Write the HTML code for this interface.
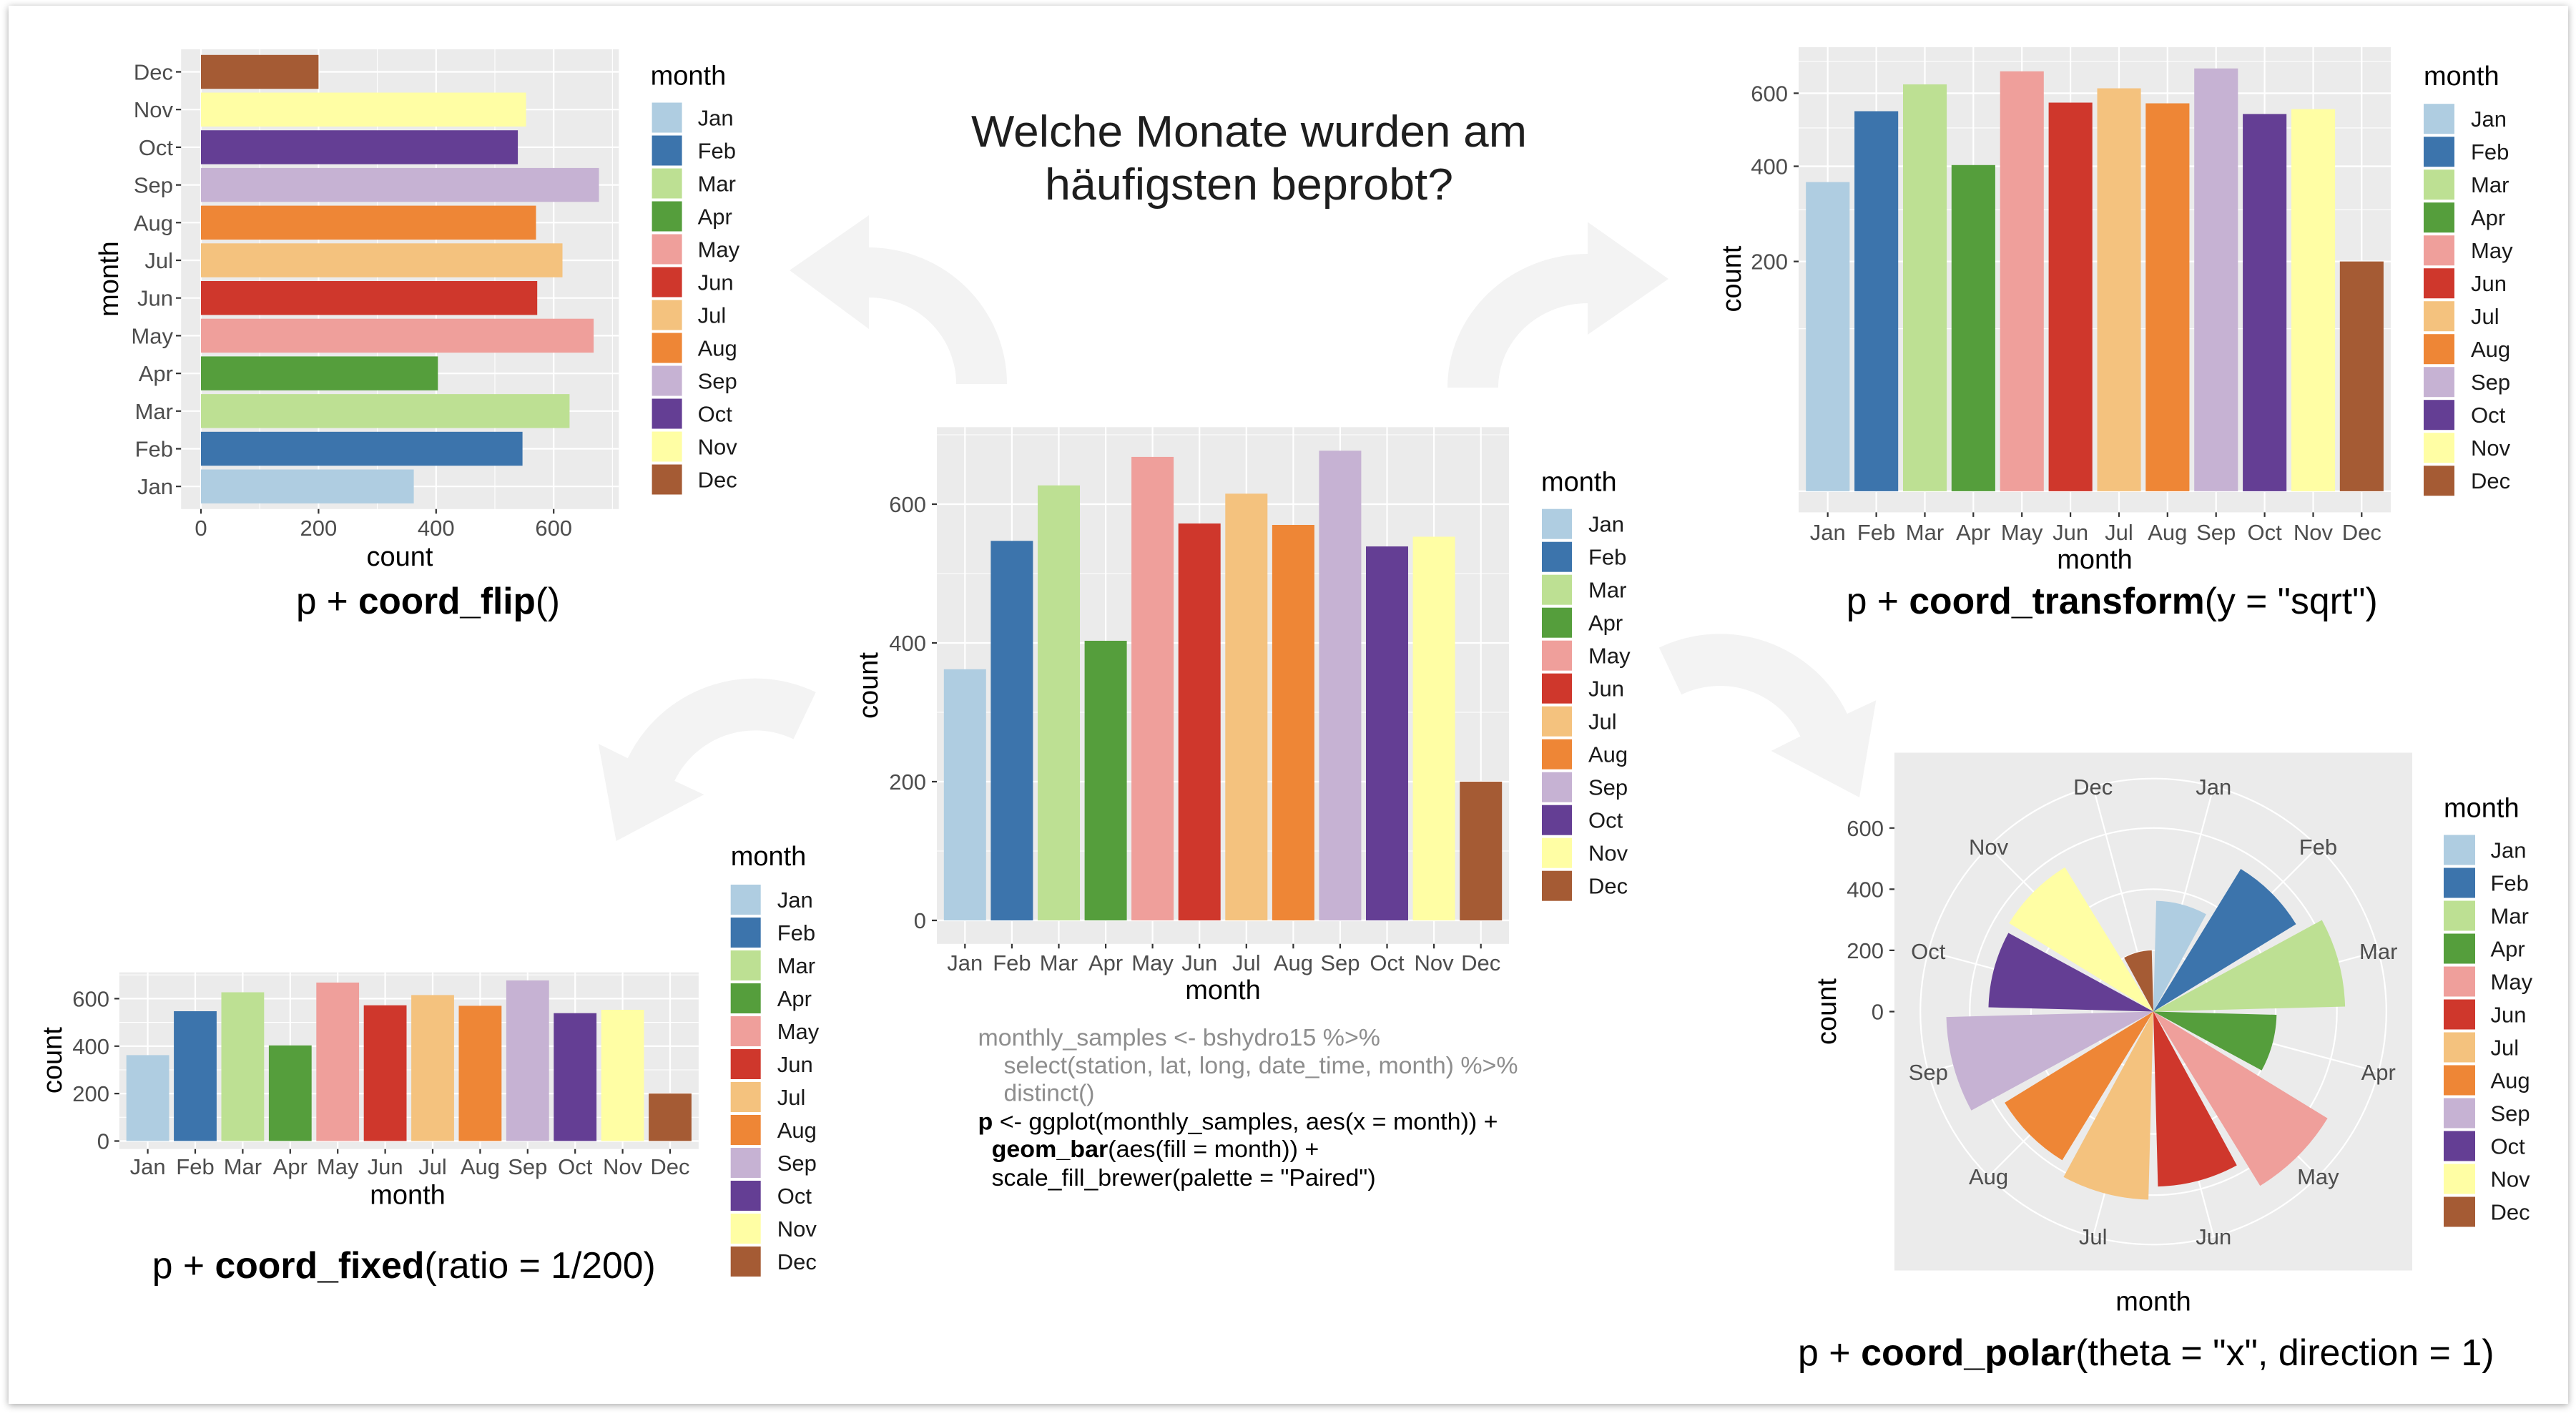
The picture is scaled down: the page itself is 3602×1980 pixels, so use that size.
<!DOCTYPE html>
<html>
<head>
<meta charset="utf-8">
<style>
html,body{margin:0;padding:0;background:#fff;width:3602px;height:1980px;overflow:hidden;}
svg{display:block;}
text{font-family:"Liberation Sans",Arial,Helvetica,sans-serif;}
.tk{font-size:31px;fill:#4d4d4d;}
.tkr{font-size:31px;fill:#4d4d4d;text-anchor:end;}
.tkm{font-size:31px;fill:#4d4d4d;text-anchor:middle;}
.at{font-size:38px;fill:#000;}
.atm{font-size:38px;fill:#000;text-anchor:middle;}
.lg{font-size:31px;fill:#1a1a1a;}
.cap{font-size:52px;fill:#000;}
.code{font-size:33px;}
.gmaj{stroke:#fff;stroke-width:2.2;fill:none;}
.gmin{stroke:#fff;stroke-width:1.1;fill:none;}
.tick{stroke:#333;stroke-width:2.2;fill:none;}
.pb{fill:#ebebeb;}
.c1{fill:#afcde1}.c2{fill:#3c74ac}.c3{fill:#bde093}.c4{fill:#559e3c}
.c5{fill:#ef9f9b}.c6{fill:#cf372c}.c7{fill:#f4c27e}.c8{fill:#ee8636}
.c9{fill:#c6b2d3}.c10{fill:#643e94}.c11{fill:#fffea4}.c12{fill:#a55b34}
.arr{fill:#f3f3f3;}
</style>
</head>
<body>
<svg width="3602" height="1980" viewBox="0 0 3602 1980" xmlns="http://www.w3.org/2000/svg">
<defs>
<filter id="sh" x="-2%" y="-2%" width="104%" height="104%">
<feDropShadow dx="0" dy="2" stdDeviation="5" flood-color="#000" flood-opacity="0.35"/>
</filter>
</defs>
<rect x="0" y="0" width="3602" height="1980" fill="#fff"/>
<rect x="12" y="8" width="3579" height="1955" fill="#fff" filter="url(#sh)"/>

<!-- Arrows -->
<path class="arr" d="M1408,537 A194,191 0 0 0 1215,346 L1215,301 L1104,378 L1215,460 L1215,416 A122,121 0 0 1 1337,537 Z"/>
<path class="arr" d="M2024,542 A196,187 0 0 1 2220,355 L2220,310.5 L2333,390 L2220,468 L2220,424 A125,118 0 0 0 2095,542 Z"/>
<path class="arr" d="M2319.9,905.6 A197.6,197.6 0 0 1 2582.9,998 L2623.3,979.3 L2600,1115 L2476.7,1050 L2517.5,1029.6 A125,125 0 0 0 2351.2,971.2 Z"/>
<path class="arr" d="M1140.8,967.9 A197.6,197.6 0 0 0 877.8,1060.3 L836.7,1040 L861.7,1176 L984.3,1111 L943.2,1091.9 A125,125 0 0 1 1109.5,1033.5 Z"/>

<!-- Title -->
<text x="1746.5" y="205" font-size="62" fill="#1e1e1e" text-anchor="middle" textLength="777" lengthAdjust="spacingAndGlyphs">Welche Monate wurden am</text>
<text x="1746.5" y="279" font-size="62" fill="#1e1e1e" text-anchor="middle" textLength="571" lengthAdjust="spacingAndGlyphs">häufigsten beprobt?</text>

<!-- ================= CENTER CHART ================= -->
<rect class="pb" x="1310" y="597.3" width="800" height="722.5"/>
<path class="gmin" d="M1310 1190H2110M1310 996H2110M1310 802H2110M1310 608H2110"/>
<path class="gmaj" d="M1310 1287H2110M1310 1093H2110M1310 899H2110M1310 705H2110
M1349.3 597.3V1319.8M1414.9 597.3V1319.8M1480.5 597.3V1319.8M1546.1 597.3V1319.8M1611.6 597.3V1319.8M1677.2 597.3V1319.8
M1742.8 597.3V1319.8M1808.4 597.3V1319.8M1873.9 597.3V1319.8M1939.5 597.3V1319.8M2005.1 597.3V1319.8M2070.7 597.3V1319.8"/>
<rect class="c1" x="1319.8" y="935.8" width="59" height="351.2"/>
<rect class="c2" x="1385.4" y="756.3" width="59" height="530.7"/>
<rect class="c3" x="1451.0" y="678.7" width="59" height="608.3"/>
<rect class="c4" x="1516.6" y="896.0" width="59" height="391.0"/>
<rect class="c5" x="1582.1" y="638.9" width="59" height="648.1"/>
<rect class="c6" x="1647.7" y="732.0" width="59" height="555.0"/>
<rect class="c7" x="1713.3" y="690.3" width="59" height="596.7"/>
<rect class="c8" x="1778.9" y="734.0" width="59" height="553.0"/>
<rect class="c9" x="1844.4" y="630.2" width="59" height="656.8"/>
<rect class="c10" x="1910.0" y="764.1" width="59" height="522.9"/>
<rect class="c11" x="1975.6" y="750.5" width="59" height="536.5"/>
<rect class="c12" x="2041.2" y="1093.0" width="59" height="194.0"/>
<path class="tick" d="M1303 1287h7M1303 1093h7M1303 899h7M1303 705h7
M1349.3 1319.8v6.5M1414.9 1319.8v6.5M1480.5 1319.8v6.5M1546.1 1319.8v6.5M1611.6 1319.8v6.5M1677.2 1319.8v6.5
M1742.8 1319.8v6.5M1808.4 1319.8v6.5M1873.9 1319.8v6.5M1939.5 1319.8v6.5M2005.1 1319.8v6.5M2070.7 1319.8v6.5"/>
<text class="tkr" x="1295" y="1298">0</text>
<text class="tkr" x="1295" y="1104">200</text>
<text class="tkr" x="1295" y="910">400</text>
<text class="tkr" x="1295" y="716">600</text>
<text class="tkm" x="1349.3" y="1357">Jan</text>
<text class="tkm" x="1414.9" y="1357">Feb</text>
<text class="tkm" x="1480.5" y="1357">Mar</text>
<text class="tkm" x="1546.1" y="1357">Apr</text>
<text class="tkm" x="1611.6" y="1357">May</text>
<text class="tkm" x="1677.2" y="1357">Jun</text>
<text class="tkm" x="1742.8" y="1357">Jul</text>
<text class="tkm" x="1808.4" y="1357">Aug</text>
<text class="tkm" x="1873.9" y="1357">Sep</text>
<text class="tkm" x="1939.5" y="1357">Oct</text>
<text class="tkm" x="2005.1" y="1357">Nov</text>
<text class="tkm" x="2070.7" y="1357">Dec</text>
<text class="atm" x="1710" y="1397">month</text>
<text class="atm" transform="translate(1227,958.5) rotate(-90)">count</text>
<g transform="translate(2156,711.7)">
<text class="at" x="-1" y="-25">month</text>
<rect class="c1" x="0" y="0" width="42" height="42"/><rect class="c2" x="0" y="46" width="42" height="42"/><rect class="c3" x="0" y="92" width="42" height="42"/><rect class="c4" x="0" y="138" width="42" height="42"/><rect class="c5" x="0" y="184" width="42" height="42"/><rect class="c6" x="0" y="230" width="42" height="42"/><rect class="c7" x="0" y="276" width="42" height="42"/><rect class="c8" x="0" y="322" width="42" height="42"/><rect class="c9" x="0" y="368" width="42" height="42"/><rect class="c10" x="0" y="414" width="42" height="42"/><rect class="c11" x="0" y="460" width="42" height="42"/><rect class="c12" x="0" y="506" width="42" height="42"/>
<text class="lg" x="65" y="32">Jan</text><text class="lg" x="65" y="78">Feb</text><text class="lg" x="65" y="124">Mar</text><text class="lg" x="65" y="170">Apr</text><text class="lg" x="65" y="216">May</text><text class="lg" x="65" y="262">Jun</text><text class="lg" x="65" y="308">Jul</text><text class="lg" x="65" y="354">Aug</text><text class="lg" x="65" y="400">Sep</text><text class="lg" x="65" y="446">Oct</text><text class="lg" x="65" y="492">Nov</text><text class="lg" x="65" y="538">Dec</text>
</g>

<!-- Code -->
<text class="code" x="1367.5" y="1461.8" fill="#8e8e8e" textLength="562.5" lengthAdjust="spacingAndGlyphs">monthly_samples &lt;- bshydro15 %&gt;%</text>
<text class="code" x="1403.5" y="1501.1" fill="#8e8e8e" textLength="719" lengthAdjust="spacingAndGlyphs">select(station, lat, long, date_time, month) %&gt;%</text>
<text class="code" x="1403.5" y="1539.7" fill="#8e8e8e" textLength="127" lengthAdjust="spacingAndGlyphs">distinct()</text>
<text class="code" x="1367.5" y="1579.6" fill="#000" textLength="727" lengthAdjust="spacingAndGlyphs"><tspan font-weight="bold">p</tspan> &lt;- ggplot(monthly_samples, aes(x = month)) +</text>
<text class="code" x="1386.6" y="1618.2" fill="#000" textLength="457.7" lengthAdjust="spacingAndGlyphs"><tspan font-weight="bold">geom_bar</tspan>(aes(fill = month)) +</text>
<text class="code" x="1386.6" y="1658.2" fill="#000" textLength="537" lengthAdjust="spacingAndGlyphs">scale_fill_brewer(palette = "Paired")</text>

<!-- ================= TOP-LEFT FLIP CHART ================= -->
<rect class="pb" x="253.2" y="68.9" width="612.1" height="642.9"/>
<path class="gmin" d="M363.2 68.9V711.8M527.6 68.9V711.8M692 68.9V711.8M856.4 68.9V711.8"/>
<path class="gmaj" d="M281 68.9V711.8M445.4 68.9V711.8M609.8 68.9V711.8M774.2 68.9V711.8
M253.2 680.2H865.3M253.2 627.5H865.3M253.2 574.8H865.3M253.2 522.1H865.3M253.2 469.4H865.3M253.2 416.7H865.3
M253.2 364H865.3M253.2 311.3H865.3M253.2 258.6H865.3M253.2 205.9H865.3M253.2 153.2H865.3M253.2 100.5H865.3"/>
<rect class="c1" x="281" y="656.5" width="297.6" height="47.4"/>
<rect class="c2" x="281" y="603.8" width="449.6" height="47.4"/>
<rect class="c3" x="281" y="551.1" width="515.4" height="47.4"/>
<rect class="c4" x="281" y="498.4" width="331.3" height="47.4"/>
<rect class="c5" x="281" y="445.7" width="549.1" height="47.4"/>
<rect class="c6" x="281" y="393.0" width="470.2" height="47.4"/>
<rect class="c7" x="281" y="340.3" width="505.5" height="47.4"/>
<rect class="c8" x="281" y="287.6" width="468.5" height="47.4"/>
<rect class="c9" x="281" y="234.9" width="556.5" height="47.4"/>
<rect class="c10" x="281" y="182.2" width="443.1" height="47.4"/>
<rect class="c11" x="281" y="129.5" width="454.6" height="47.4"/>
<rect class="c12" x="281" y="76.8" width="164.4" height="47.4"/>
<path class="tick" d="M246 680.2h7.2M246 627.5h7.2M246 574.8h7.2M246 522.1h7.2M246 469.4h7.2M246 416.7h7.2M246 364h7.2M246 311.3h7.2M246 258.6h7.2M246 205.9h7.2M246 153.2h7.2M246 100.5h7.2
M281 711.8v6.5M445.4 711.8v6.5M609.8 711.8v6.5M774.2 711.8v6.5"/>
<text class="tkr" x="242" y="691.2">Jan</text>
<text class="tkr" x="242" y="638.5">Feb</text>
<text class="tkr" x="242" y="585.8">Mar</text>
<text class="tkr" x="242" y="533.1">Apr</text>
<text class="tkr" x="242" y="480.4">May</text>
<text class="tkr" x="242" y="427.7">Jun</text>
<text class="tkr" x="242" y="375">Jul</text>
<text class="tkr" x="242" y="322.3">Aug</text>
<text class="tkr" x="242" y="269.6">Sep</text>
<text class="tkr" x="242" y="216.9">Oct</text>
<text class="tkr" x="242" y="164.2">Nov</text>
<text class="tkr" x="242" y="111.5">Dec</text>
<text class="tkm" x="281" y="749">0</text>
<text class="tkm" x="445.4" y="749">200</text>
<text class="tkm" x="609.8" y="749">400</text>
<text class="tkm" x="774.2" y="749">600</text>
<text class="atm" x="559" y="791">count</text>
<text class="atm" transform="translate(165,390) rotate(-90)">month</text>
<g transform="translate(911.6,143.5)">
<text class="at" x="-2" y="-25">month</text>
<rect class="c1" x="0" y="0" width="42" height="42"/><rect class="c2" x="0" y="46" width="42" height="42"/><rect class="c3" x="0" y="92" width="42" height="42"/><rect class="c4" x="0" y="138" width="42" height="42"/><rect class="c5" x="0" y="184" width="42" height="42"/><rect class="c6" x="0" y="230" width="42" height="42"/><rect class="c7" x="0" y="276" width="42" height="42"/><rect class="c8" x="0" y="322" width="42" height="42"/><rect class="c9" x="0" y="368" width="42" height="42"/><rect class="c10" x="0" y="414" width="42" height="42"/><rect class="c11" x="0" y="460" width="42" height="42"/><rect class="c12" x="0" y="506" width="42" height="42"/>
<text class="lg" x="64" y="32">Jan</text><text class="lg" x="64" y="78">Feb</text><text class="lg" x="64" y="124">Mar</text><text class="lg" x="64" y="170">Apr</text><text class="lg" x="64" y="216">May</text><text class="lg" x="64" y="262">Jun</text><text class="lg" x="64" y="308">Jul</text><text class="lg" x="64" y="354">Aug</text><text class="lg" x="64" y="400">Sep</text><text class="lg" x="64" y="446">Oct</text><text class="lg" x="64" y="492">Nov</text><text class="lg" x="64" y="538">Dec</text>
</g>
<text class="cap" x="414" y="858" textLength="369" lengthAdjust="spacingAndGlyphs">p + <tspan font-weight="bold">coord_flip</tspan>()</text>

<!-- ================= TOP-RIGHT SQRT CHART ================= -->
<rect class="pb" x="2515" y="66" width="828" height="650.4"/>
<path class="gmin" d="M2515 459.7H3343M2515 293.4H3343M2515 178.9H3343M2515 85.8H3343"/>
<path class="gmaj" d="M2515 686.9H3343M2515 365.6H3343M2515 232.5H3343M2515 130.4H3343
M2555.7 66V716.4M2623.6 66V716.4M2691.5 66V716.4M2759.3 66V716.4M2827.2 66V716.4M2895.1 66V716.4
M2963 66V716.4M3030.8 66V716.4M3098.7 66V716.4M3166.6 66V716.4M3234.5 66V716.4M3302.3 66V716.4"/>
<rect class="c1" x="2525.2" y="254.6" width="61.1" height="432.3"/>
<rect class="c2" x="2593.1" y="155.5" width="61.1" height="531.4"/>
<rect class="c3" x="2661.0" y="118.0" width="61.1" height="568.9"/>
<rect class="c4" x="2728.8" y="230.8" width="61.1" height="456.1"/>
<rect class="c5" x="2796.7" y="99.7" width="61.1" height="587.2"/>
<rect class="c6" x="2864.6" y="143.5" width="61.1" height="543.4"/>
<rect class="c7" x="2932.5" y="123.5" width="61.1" height="563.4"/>
<rect class="c8" x="3000.3" y="144.5" width="61.1" height="542.4"/>
<rect class="c9" x="3068.2" y="95.7" width="61.1" height="591.2"/>
<rect class="c10" x="3136.1" y="159.4" width="61.1" height="527.5"/>
<rect class="c11" x="3204.0" y="152.6" width="61.1" height="534.3"/>
<rect class="c12" x="3271.8" y="365.6" width="61.1" height="321.3"/>
<path class="tick" d="M2508 130.4h7M2508 232.5h7M2508 365.6h7
M2555.7 716.4v6.5M2623.6 716.4v6.5M2691.5 716.4v6.5M2759.3 716.4v6.5M2827.2 716.4v6.5M2895.1 716.4v6.5
M2963 716.4v6.5M3030.8 716.4v6.5M3098.7 716.4v6.5M3166.6 716.4v6.5M3234.5 716.4v6.5M3302.3 716.4v6.5"/>
<text class="tkr" x="2500" y="141.4">600</text>
<text class="tkr" x="2500" y="243.5">400</text>
<text class="tkr" x="2500" y="376.6">200</text>
<text class="tkm" x="2555.7" y="754.8">Jan</text>
<text class="tkm" x="2623.6" y="754.8">Feb</text>
<text class="tkm" x="2691.5" y="754.8">Mar</text>
<text class="tkm" x="2759.3" y="754.8">Apr</text>
<text class="tkm" x="2827.2" y="754.8">May</text>
<text class="tkm" x="2895.1" y="754.8">Jun</text>
<text class="tkm" x="2963" y="754.8">Jul</text>
<text class="tkm" x="3030.8" y="754.8">Aug</text>
<text class="tkm" x="3098.7" y="754.8">Sep</text>
<text class="tkm" x="3166.6" y="754.8">Oct</text>
<text class="tkm" x="3234.5" y="754.8">Nov</text>
<text class="tkm" x="3302.3" y="754.8">Dec</text>
<text class="atm" x="2929" y="795">month</text>
<text class="atm" transform="translate(2434,390) rotate(-90)">count</text>
<g transform="translate(3389,145.2)">
<text class="at" x="0" y="-26">month</text>
<rect class="c1" x="0" y="0" width="43" height="42"/><rect class="c2" x="0" y="46" width="43" height="42"/><rect class="c3" x="0" y="92" width="43" height="42"/><rect class="c4" x="0" y="138" width="43" height="42"/><rect class="c5" x="0" y="184" width="43" height="42"/><rect class="c6" x="0" y="230" width="43" height="42"/><rect class="c7" x="0" y="276" width="43" height="42"/><rect class="c8" x="0" y="322" width="43" height="42"/><rect class="c9" x="0" y="368" width="43" height="42"/><rect class="c10" x="0" y="414" width="43" height="42"/><rect class="c11" x="0" y="460" width="43" height="42"/><rect class="c12" x="0" y="506" width="43" height="42"/>
<text class="lg" x="66" y="32">Jan</text><text class="lg" x="66" y="78">Feb</text><text class="lg" x="66" y="124">Mar</text><text class="lg" x="66" y="170">Apr</text><text class="lg" x="66" y="216">May</text><text class="lg" x="66" y="262">Jun</text><text class="lg" x="66" y="308">Jul</text><text class="lg" x="66" y="354">Aug</text><text class="lg" x="66" y="400">Sep</text><text class="lg" x="66" y="446">Oct</text><text class="lg" x="66" y="492">Nov</text><text class="lg" x="66" y="538">Dec</text>
</g>
<text class="cap" x="2581.7" y="858" textLength="743" lengthAdjust="spacingAndGlyphs">p + <tspan font-weight="bold">coord_transform</tspan>(y = "sqrt")</text>

<!-- ================= BOTTOM-LEFT FIXED CHART ================= -->
<rect class="pb" x="166.8" y="1359.6" width="810.1" height="247.1"/>
<path class="gmin" d="M166.8 1562.3H976.9M166.8 1496H976.9M166.8 1429.6H976.9M166.8 1363.2H976.9"/>
<path class="gmaj" d="M166.8 1595.5H976.9M166.8 1529.1H976.9M166.8 1462.8H976.9M166.8 1396.4H976.9
M206.6 1359.6V1606.7M273 1359.6V1606.7M339.4 1359.6V1606.7M405.8 1359.6V1606.7M472.2 1359.6V1606.7M538.6 1359.6V1606.7
M605 1359.6V1606.7M671.4 1359.6V1606.7M737.8 1359.6V1606.7M804.2 1359.6V1606.7M870.6 1359.6V1606.7M937 1359.6V1606.7"/>
<rect class="c1" x="176.7" y="1475.4" width="59.8" height="120.1"/>
<rect class="c2" x="243.1" y="1414.0" width="59.8" height="181.5"/>
<rect class="c3" x="309.5" y="1387.5" width="59.8" height="208.0"/>
<rect class="c4" x="375.9" y="1461.8" width="59.8" height="133.7"/>
<rect class="c5" x="442.3" y="1373.9" width="59.8" height="221.6"/>
<rect class="c6" x="508.7" y="1405.7" width="59.8" height="189.8"/>
<rect class="c7" x="575.1" y="1391.4" width="59.8" height="204.1"/>
<rect class="c8" x="641.5" y="1406.4" width="59.8" height="189.1"/>
<rect class="c9" x="707.9" y="1370.9" width="59.8" height="224.6"/>
<rect class="c10" x="774.3" y="1416.7" width="59.8" height="178.8"/>
<rect class="c11" x="840.7" y="1412.0" width="59.8" height="183.5"/>
<rect class="c12" x="907.1" y="1529.1" width="59.8" height="66.4"/>
<path class="tick" d="M160 1595.5h6.8M160 1529.1h6.8M160 1462.8h6.8M160 1396.4h6.8
M206.6 1606.7v6.5M273 1606.7v6.5M339.4 1606.7v6.5M405.8 1606.7v6.5M472.2 1606.7v6.5M538.6 1606.7v6.5
M605 1606.7v6.5M671.4 1606.7v6.5M737.8 1606.7v6.5M804.2 1606.7v6.5M870.6 1606.7v6.5M937 1606.7v6.5"/>
<text class="tkr" x="153" y="1606.5">0</text>
<text class="tkr" x="153" y="1540.1">200</text>
<text class="tkr" x="153" y="1473.8">400</text>
<text class="tkr" x="153" y="1407.4">600</text>
<text class="tkm" x="206.6" y="1642">Jan</text>
<text class="tkm" x="273" y="1642">Feb</text>
<text class="tkm" x="339.4" y="1642">Mar</text>
<text class="tkm" x="405.8" y="1642">Apr</text>
<text class="tkm" x="472.2" y="1642">May</text>
<text class="tkm" x="538.6" y="1642">Jun</text>
<text class="tkm" x="605" y="1642">Jul</text>
<text class="tkm" x="671.4" y="1642">Aug</text>
<text class="tkm" x="737.8" y="1642">Sep</text>
<text class="tkm" x="804.2" y="1642">Oct</text>
<text class="tkm" x="870.6" y="1642">Nov</text>
<text class="tkm" x="937" y="1642">Dec</text>
<text class="atm" x="570" y="1683.5">month</text>
<text class="atm" transform="translate(86,1482.6) rotate(-90)">count</text>
<g transform="translate(1021.7,1237)">
<text class="at" x="0" y="-27">month</text>
<rect class="c1" x="0" y="0" width="42" height="42"/><rect class="c2" x="0" y="46" width="42" height="42"/><rect class="c3" x="0" y="92" width="42" height="42"/><rect class="c4" x="0" y="138" width="42" height="42"/><rect class="c5" x="0" y="184" width="42" height="42"/><rect class="c6" x="0" y="230" width="42" height="42"/><rect class="c7" x="0" y="276" width="42" height="42"/><rect class="c8" x="0" y="322" width="42" height="42"/><rect class="c9" x="0" y="368" width="42" height="42"/><rect class="c10" x="0" y="414" width="42" height="42"/><rect class="c11" x="0" y="460" width="42" height="42"/><rect class="c12" x="0" y="506" width="42" height="42"/>
<text class="lg" x="65" y="32">Jan</text><text class="lg" x="65" y="78">Feb</text><text class="lg" x="65" y="124">Mar</text><text class="lg" x="65" y="170">Apr</text><text class="lg" x="65" y="216">May</text><text class="lg" x="65" y="262">Jun</text><text class="lg" x="65" y="308">Jul</text><text class="lg" x="65" y="354">Aug</text><text class="lg" x="65" y="400">Sep</text><text class="lg" x="65" y="446">Oct</text><text class="lg" x="65" y="492">Nov</text><text class="lg" x="65" y="538">Dec</text>
</g>
<text class="cap" x="212.8" y="1787" textLength="704" lengthAdjust="spacingAndGlyphs">p + <tspan font-weight="bold">coord_fixed</tspan>(ratio = 1/200)</text>

<!-- ================= POLAR CHART ================= -->
<rect class="pb" x="2649" y="1052.5" width="724" height="724"/>
<g class="gmaj">
<circle cx="3011" cy="1414.5" r="85.56"/>
<circle cx="3011" cy="1414.5" r="171.1"/>
<circle cx="3011" cy="1414.5" r="256.7"/>
<circle cx="3011" cy="1414.5" r="325.8"/>
<path d="M3011 1414.5L3095.32 1099.8M3011 1414.5L3241.38 1184.12M3011 1414.5L3325.7 1330.18M3011 1414.5L3325.7 1498.82
M3011 1414.5L3241.38 1644.88M3011 1414.5L3095.32 1729.2M3011 1414.5L2926.68 1729.2M3011 1414.5L2780.62 1644.88
M3011 1414.5L2696.3 1498.82M3011 1414.5L2696.3 1330.18M3011 1414.5L2780.62 1184.12M3011 1414.5L2926.68 1099.8"/>
</g>
<path class="c1" d="M3011,1414.5 L3015.06,1259.65 A154.9,154.9 0 0 1 3084.91,1278.37 Z"/>
<path class="c2" d="M3011,1414.5 L3133.27,1214.98 A234,234 0 0 1 3210.52,1292.23 Z"/>
<path class="c3" d="M3011,1414.5 L3246.70,1286.53 A268.2,268.2 0 0 1 3279.11,1407.48 Z"/>
<path class="c4" d="M3011,1414.5 L3183.34,1419.01 A172.4,172.4 0 0 1 3162.51,1496.76 Z"/>
<path class="c5" d="M3011,1414.5 L3254.60,1563.78 A285.7,285.7 0 0 1 3160.28,1658.10 Z"/>
<path class="c6" d="M3011,1414.5 L3127.76,1629.55 A244.7,244.7 0 0 1 3017.41,1659.12 Z"/>
<path class="c7" d="M3011,1414.5 L3004.11,1677.51 A263.1,263.1 0 0 1 2885.46,1645.72 Z"/>
<path class="c8" d="M3011,1414.5 L2883.61,1622.37 A243.8,243.8 0 0 1 2803.13,1541.89 Z"/>
<path class="c9" d="M3011,1414.5 L2756.49,1552.69 A289.6,289.6 0 0 1 2721.50,1422.08 Z"/>
<path class="c10" d="M3011,1414.5 L2780.48,1408.46 A230.6,230.6 0 0 1 2808.34,1304.47 Z"/>
<path class="c11" d="M3011,1414.5 L2809.27,1290.88 A236.6,236.6 0 0 1 2887.38,1212.77 Z"/>
<path class="c12" d="M3011,1414.5 L2970.16,1339.27 A85.6,85.6 0 0 1 3008.76,1328.93 Z"/>
<text class="tkm" x="3095.3" y="1110.8">Jan</text>
<text class="tkm" x="3241.4" y="1195.1">Feb</text>
<text class="tkm" x="3325.7" y="1341.2">Mar</text>
<text class="tkm" x="3325.7" y="1509.8">Apr</text>
<text class="tkm" x="3241.4" y="1655.9">May</text>
<text class="tkm" x="3095.3" y="1740.2">Jun</text>
<text class="tkm" x="2926.7" y="1740.2">Jul</text>
<text class="tkm" x="2780.6" y="1655.9">Aug</text>
<text class="tkm" x="2696.3" y="1509.8">Sep</text>
<text class="tkm" x="2696.3" y="1341.2">Oct</text>
<text class="tkm" x="2780.6" y="1195.1">Nov</text>
<text class="tkm" x="2926.7" y="1110.8">Dec</text>
<path class="tick" d="M2642 1414.5h7M2642 1328.9h7M2642 1243.4h7M2642 1157.8h7"/>
<text class="tkr" x="2634" y="1425.5">0</text>
<text class="tkr" x="2634" y="1339.9">200</text>
<text class="tkr" x="2634" y="1254.4">400</text>
<text class="tkr" x="2634" y="1168.8">600</text>
<text class="atm" x="3011" y="1832.5">month</text>
<text class="atm" transform="translate(2567,1414.5) rotate(-90)">count</text>
<g transform="translate(3417,1167.5)">
<text class="at" x="0" y="-25">month</text>
<rect class="c1" x="0" y="0" width="44" height="42"/><rect class="c2" x="0" y="46" width="44" height="42"/><rect class="c3" x="0" y="92" width="44" height="42"/><rect class="c4" x="0" y="138" width="44" height="42"/><rect class="c5" x="0" y="184" width="44" height="42"/><rect class="c6" x="0" y="230" width="44" height="42"/><rect class="c7" x="0" y="276" width="44" height="42"/><rect class="c8" x="0" y="322" width="44" height="42"/><rect class="c9" x="0" y="368" width="44" height="42"/><rect class="c10" x="0" y="414" width="44" height="42"/><rect class="c11" x="0" y="460" width="44" height="42"/><rect class="c12" x="0" y="506" width="44" height="42"/>
<text class="lg" x="65.5" y="32">Jan</text><text class="lg" x="65.5" y="78">Feb</text><text class="lg" x="65.5" y="124">Mar</text><text class="lg" x="65.5" y="170">Apr</text><text class="lg" x="65.5" y="216">May</text><text class="lg" x="65.5" y="262">Jun</text><text class="lg" x="65.5" y="308">Jul</text><text class="lg" x="65.5" y="354">Aug</text><text class="lg" x="65.5" y="400">Sep</text><text class="lg" x="65.5" y="446">Oct</text><text class="lg" x="65.5" y="492">Nov</text><text class="lg" x="65.5" y="538">Dec</text>
</g>
<text class="cap" x="2514" y="1909" textLength="973.5" lengthAdjust="spacingAndGlyphs">p + <tspan font-weight="bold">coord_polar</tspan>(theta = "x", direction = 1)</text>
</svg>
</body>
</html>
